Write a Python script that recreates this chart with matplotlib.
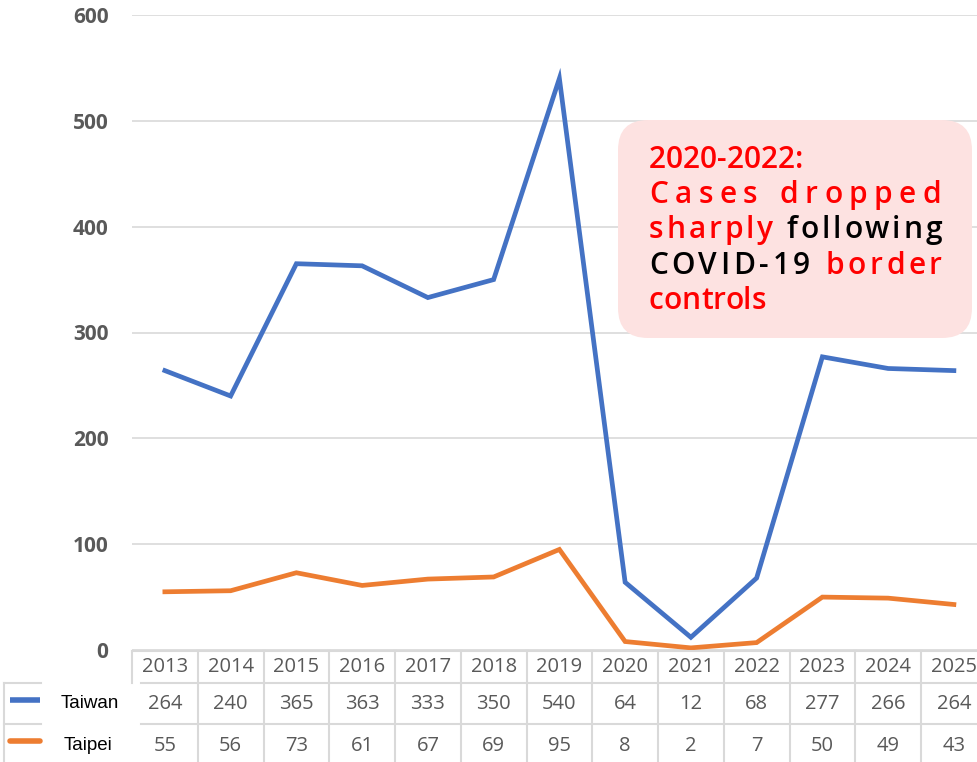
import matplotlib
matplotlib.use("Agg")
import matplotlib.pyplot as plt
import matplotlib.transforms as mtrans
from matplotlib.lines import Line2D
from matplotlib.patches import FancyBboxPatch
import numpy as np

years = ["2013", "2014", "2015", "2016", "2017", "2018", "2019",
         "2020", "2021", "2022", "2023", "2024", "2025"]
taiwan = [264, 240, 365, 363, 333, 350, 540, 64, 12, 68, 277, 266, 264]
taipei = [55, 56, 73, 61, 67, 69, 95, 8, 2, 7, 50, 49, 43]
series_names = ["Taiwan", "Taipei"]
series_colors = ["#4472c4", "#ed7d31"]

W, H = 978, 762
fig = plt.figure(figsize=(W / 100, H / 100), dpi=100)

def fy(py):
    # pixel from top -> figure fraction
    return 1 - py / H

col_w = 65.75
left_px = 132
ax = fig.add_axes([left_px / W, fy(650), len(years) * col_w / W, 635 / H])

x = np.arange(len(years))
ax.plot(x, taiwan, color=series_colors[0], lw=3.4, solid_joinstyle="miter")
ax.plot(x, taipei, color=series_colors[1], lw=3.4, solid_joinstyle="miter")

ax.set_xlim(-0.5, len(years) - 0.5)
ax.set_ylim(0, 600)
ax.set_yticks(range(0, 601, 100))
ax.set_xticks([])
ax.grid(axis="y", color="#d9d9d9", lw=1.2)
ax.set_axisbelow(True)
for s in ax.spines.values():
    s.set_visible(False)
ax.tick_params(axis="y", length=0, pad=17, labelsize=15, labelcolor="#595959")
for lab in ax.get_yticklabels():
    lab.set_fontweight("bold")
    lab.set_fontfamily("Open Sans")

# data table below the plot
tr = mtrans.blended_transform_factory(ax.transData, fig.transFigure)
grid_c = "#d9d9d9"
row_y = [667, 704, 746]
for i, yr in enumerate(years):
    fig.text(i, fy(row_y[0]), yr, transform=tr, ha="center", va="center",
             fontsize=14.5, color="#595959", family="Open Sans")
    fig.text(i, fy(row_y[1]), str(taiwan[i]), transform=tr, ha="center", va="center",
             fontsize=14.5, color="#595959", family="Open Sans")
    fig.text(i, fy(row_y[2]), str(taipei[i]), transform=tr, ha="center", va="center",
             fontsize=14.5, color="#595959", family="Open Sans")

for k in range(1, len(years) + 1):
    fig.add_artist(Line2D([k - 0.5, k - 0.5], [fy(651), 0], transform=tr,
                          color=grid_c, lw=1.5))
fig.add_artist(Line2D([-0.5, -0.5], [fy(651), fy(683)], transform=tr, color=grid_c, lw=1.5))
fig.add_artist(Line2D([-0.5, len(years)], [fy(651), fy(651)], transform=tr, color=grid_c, lw=1.5))
for yy in (683, 724):
    fig.add_artist(Line2D([141 / W, 1], [fy(yy), fy(yy)], transform=fig.transFigure,
                          color=grid_c, lw=1.5))
    fig.add_artist(Line2D([4 / W, 41 / W], [fy(yy), fy(yy)], transform=fig.transFigure,
                          color=grid_c, lw=1.5))
fig.add_artist(Line2D([4 / W, 4 / W], [fy(683), 0], transform=fig.transFigure,
                      color=grid_c, lw=1.5))

# legend keys in the table
key_y = [700, 741]
lab_x = [61, 64]
caps = ["butt", "round"]
for name, col, ky, lx, ty, cap in zip(series_names, series_colors, key_y, lab_x, [703, 746], caps):
    fig.add_artist(Line2D([10 / W, 40 / W], [fy(ky), fy(ky)], transform=fig.transFigure,
                          color=col, lw=4, solid_capstyle=cap))
    fig.text(lx / W, fy(ty), name, ha="left", va="center", fontsize=13.5,
             color="black", family="Liberation Sans")

# annotation box
box = FancyBboxPatch((618, H - 338), 354, 218, boxstyle="round,pad=0,rounding_size=30",
                     transform=mtrans.IdentityTransform(), facecolor="#fde2e1",
                     edgecolor="none", zorder=5)
fig.add_artist(box)

red, blk = "#ff0000", "#000000"
note_lines = [
    ([("2020-2022:", red)], 168, False),
    ([("Cases dropped", red)], 203, True),
    ([("sharply ", red), ("following", blk)], 238, True),
    ([("COVID-19 ", blk), ("border", red)], 274, True),
    ([("controls", red)], 309, False),
]
fig.canvas.draw()
renderer = fig.canvas.get_renderer()
fs = 21.5
fam = "Open Sans"
fw = "semibold"

def text_w(s):
    t = fig.text(0, 0, s, fontsize=fs, family=fam, fontweight=fw)
    w = t.get_window_extent(renderer).width
    t.remove()
    return w

x0, x1 = 649, 942
xw = text_w("x")
for segs, py, just in note_lines:
    chars = [(ch, c) for s, c in segs for ch in s]
    line = "".join(ch for ch, _ in chars)
    offs = [text_w(line[:i] + "x") - xw if i else 0 for i in range(len(line))]
    gap = 0
    if just:
        gap = (x1 - x0 - text_w(line)) / (len(line) - 1)
    for i, (ch, c) in enumerate(chars):
        if ch == " ":
            continue
        fig.text((x0 + offs[i] + i * gap) / W, fy(py), ch, ha="left", va="baseline",
                 fontsize=fs, family=fam, fontweight=fw, color=c, zorder=6)

fig.savefig("out.png", dpi=100)
